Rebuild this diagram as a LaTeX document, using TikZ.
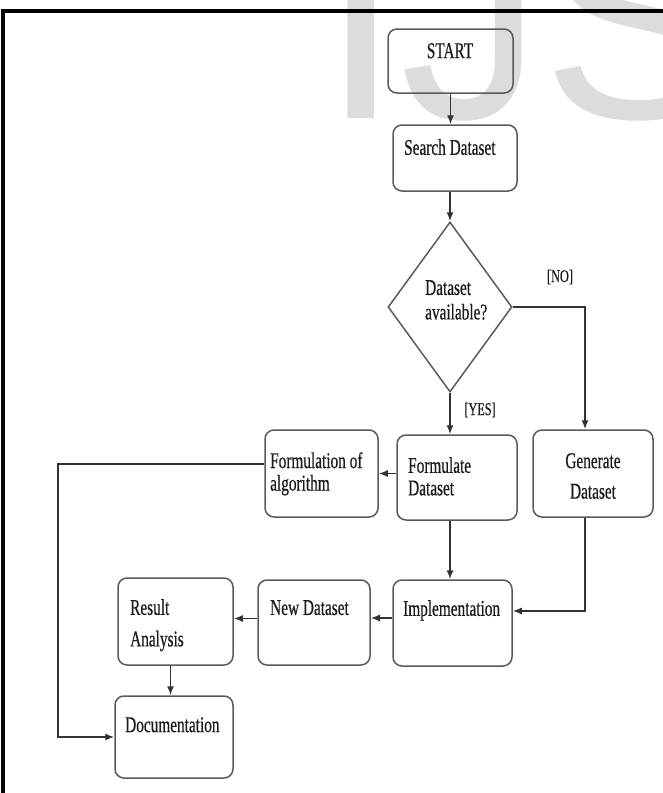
\documentclass[tikz,border=0pt]{standalone}
\usepackage{fontspec}
\setmainfont[FakeStretch=0.68,FakeBold=0.5]{Liberation Serif}
\newfontfamily\wmfont{Liberation Sans}
\usetikzlibrary{shapes.geometric,arrows.meta}
\definecolor{boxgray}{HTML}{5A5A5A}
\definecolor{wmgray}{HTML}{DCDCDC}
\definecolor{txtgray}{HTML}{1A1A1A}
\tikzset{
  flowbox/.style={draw=boxgray,line width=1.5pt,rounded corners=9pt,inner sep=0pt},
  boxtext/.style={anchor=north west,inner sep=0pt,align=left,text=txtgray,
    font=\fontsize{22.5}{22.5}\selectfont},
  tag/.style={inner sep=0pt,text=txtgray,font=\fontsize{18}{18}\selectfont},
  flowline/.style={draw=black!80,line width=1.4pt},
  flowarrow/.style={flowline,-{Latex[length=9pt,width=7pt]}}
}
\begin{document}
\begin{tikzpicture}[x=1pt,y=-1pt]
\useasboundingbox (0,0) rectangle (662,793);
%watermark
\node[anchor=base west,inner sep=0pt,text=wmgray,font=\wmfont\fontsize{285}{285}\selectfont] (watermark) at (321,118) {IJS};
%frame
\draw[line width=3.5pt] (3,800) -- (3,11) -- (670,11);

%start
\node[flowbox,minimum width=125pt,minimum height=64pt] (start) at (450.5,61) {};
\node[boxtext,anchor=north] (start-txt) at (450,43) {START};
%search
\node[flowbox,minimum width=124pt,minimum height=66pt] (search) at (455,158) {};
\node[boxtext] (search-txt) at (404,139) {Search Dataset};
%decision
\node[draw=boxgray,line width=1.5pt,diamond,inner sep=0pt,minimum width=124pt,minimum height=170pt] (decision) at (450,307) {};
\node[boxtext] (decision-txt) at (425,280) {Dataset\\[2pt]available?};
\node[tag] (no) at (560,277) {[NO]};
\node[tag] (yes) at (480,410) {[YES]};

%row 1
\node[flowbox,minimum width=113pt,minimum height=87pt] (formulation) at (321.5,473.5) {};
\node[boxtext] (formulation-txt) at (270,452) {Formulation of\\algorithm};
\node[flowbox,minimum width=120pt,minimum height=85pt] (formulate) at (457,477.5) {};
\node[boxtext] (formulate-txt) at (408,457) {Formulate\\Dataset};
\node[flowbox,minimum width=120pt,minimum height=87pt] (generate) at (593,473.5) {};
\node[boxtext,anchor=north,align=center] (generate-txt) at (593,453) {Generate\\[8pt]Dataset};

%row 2
\node[flowbox,minimum width=119pt,minimum height=86pt] (implementation) at (452.5,623) {};
\node[boxtext] (implementation-txt) at (403,600) {Implementation};
\node[flowbox,minimum width=112pt,minimum height=85pt] (newdata) at (314,622.5) {};
\node[boxtext] (newdata-txt) at (270,600) {New Dataset};
\node[flowbox,minimum width=115pt,minimum height=87pt] (result) at (175.5,621.5) {};
\node[boxtext] (result-txt) at (130,599) {Result\\[9pt]Analysis};

%row 3
\node[flowbox,minimum width=118pt,minimum height=82pt] (doc) at (174,737) {};
\node[boxtext] (doc-txt) at (125,717) {Documentation};

%connectors
\coordinate (bend) at (58,464);
\draw[flowarrow] (start.south) -- (start.south |- search.north);
\draw[flowarrow] (search.south -| decision.north) -- (decision.north);
\draw[flowarrow] (decision.south) -- (decision.south |- formulate.north);
\draw[flowarrow] (decision.east) -| ([xshift=-8pt]generate.north);
\draw[flowarrow] (formulate.west |- formulation.east) -- (formulation.east);
\draw[flowarrow] (formulate.south -| decision.south) -- (decision.south |- implementation.north);
\draw[flowarrow] ([xshift=-8pt]generate.south) |- ([yshift=12pt]implementation.east);
\draw[flowarrow] ([yshift=5pt]implementation.west) -- ([yshift=5pt]implementation.west -| newdata.east);
\draw[flowarrow] ([yshift=4pt]newdata.west) -- ([yshift=4pt]newdata.west -| result.east);
\draw[flowarrow] ([xshift=-5pt]result.south) -- ([xshift=-5pt]result.south |- doc.north);
\draw[flowarrow] ([yshift=9.5pt]formulation.west) -- (bend) |- (doc.west);
\end{tikzpicture}
\end{document}
